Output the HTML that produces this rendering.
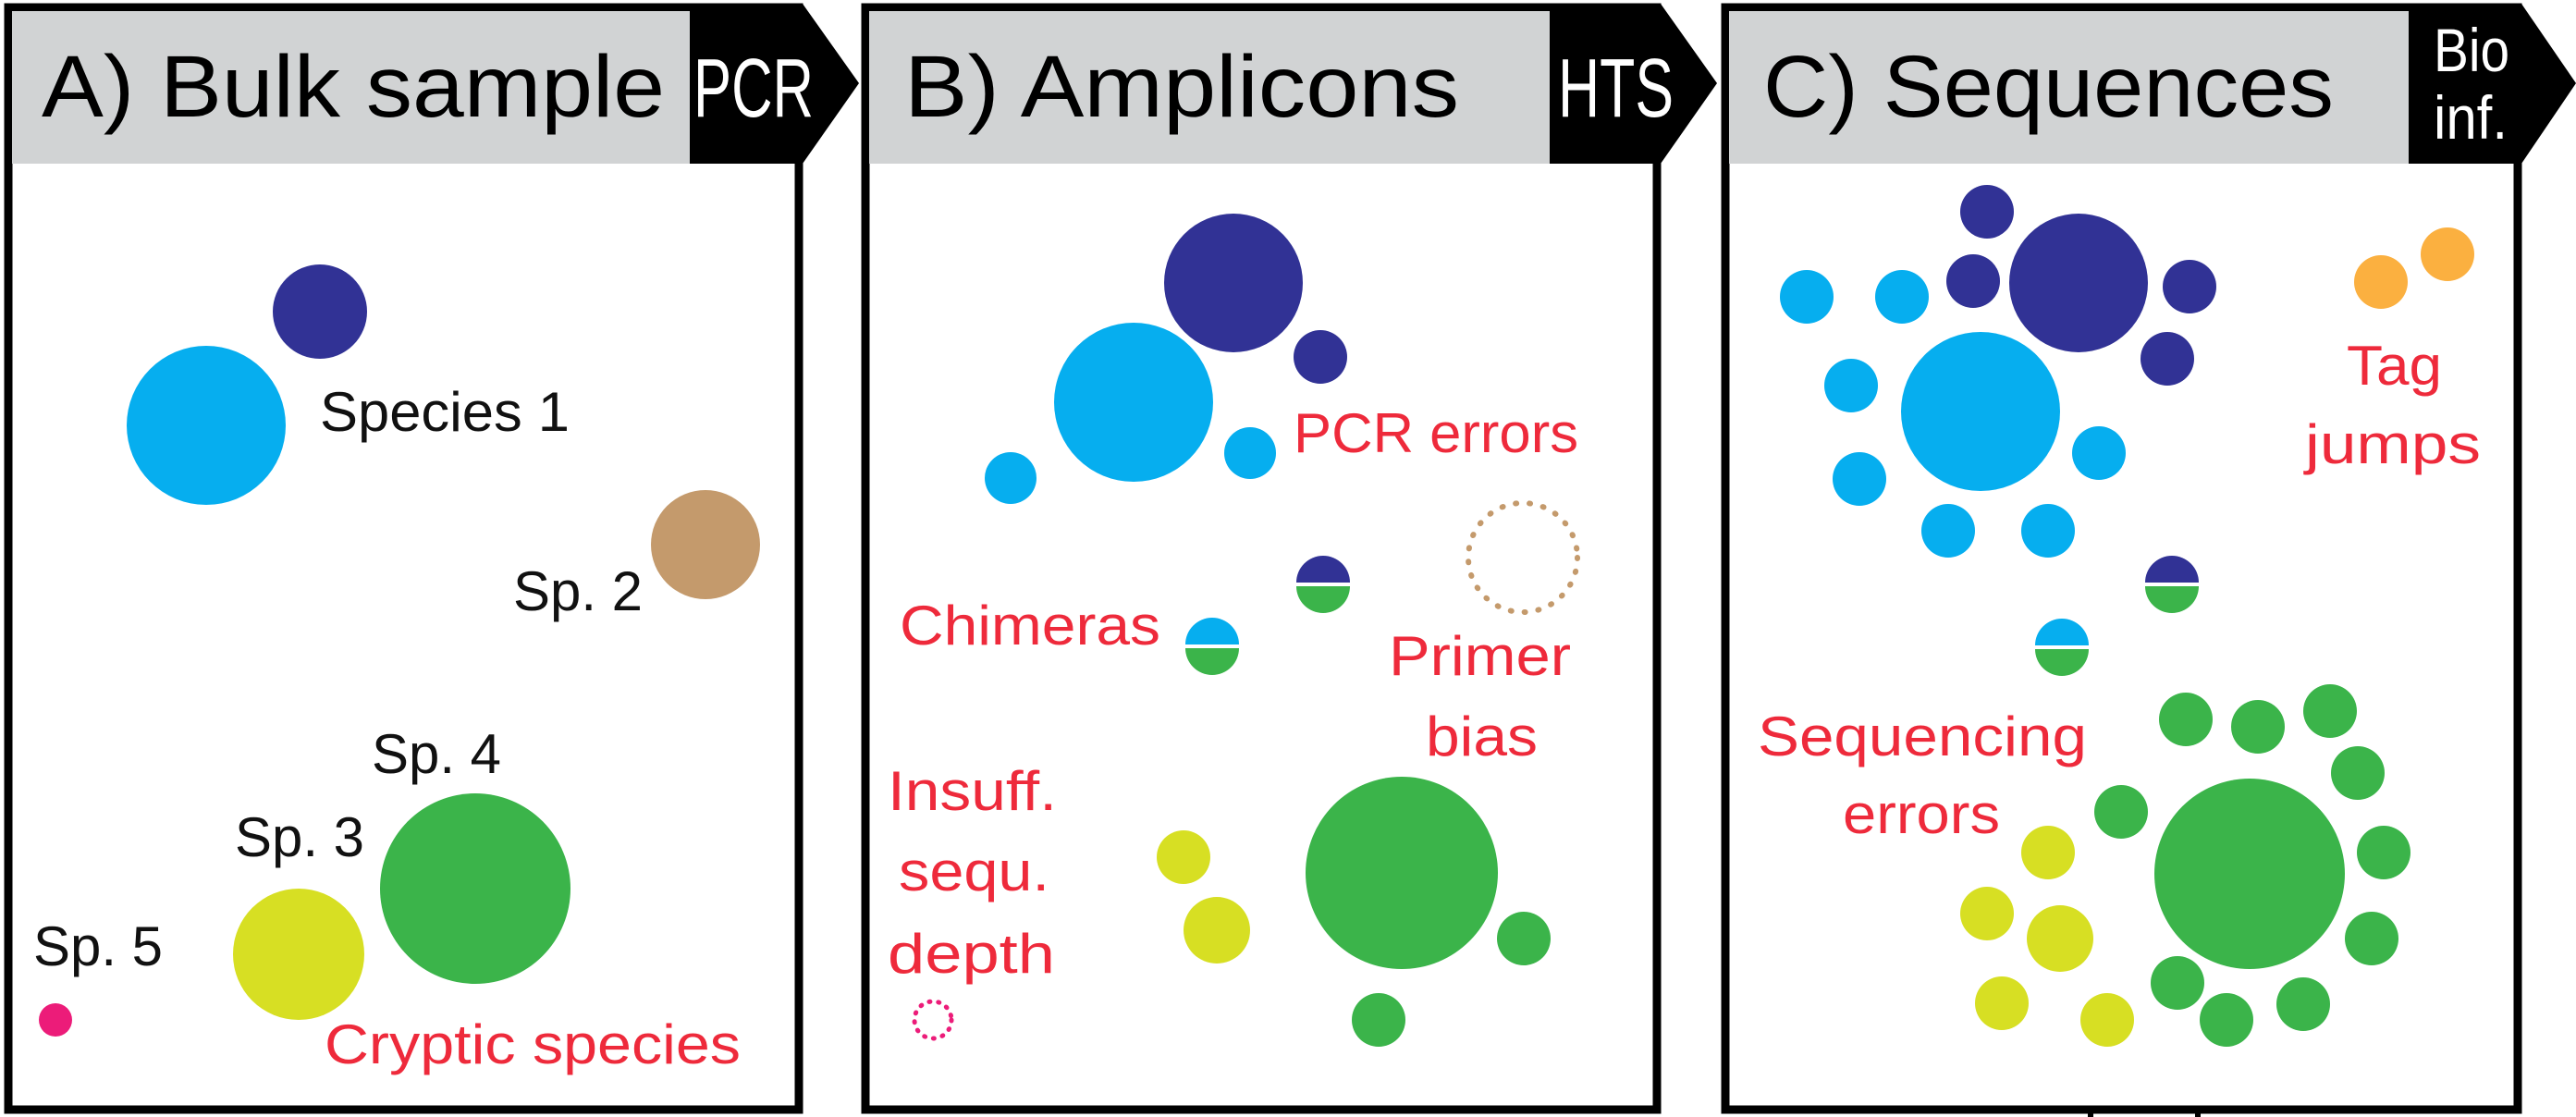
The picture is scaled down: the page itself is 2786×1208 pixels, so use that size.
<!DOCTYPE html>
<html><head><meta charset="utf-8"><style>html,body{margin:0;padding:0;background:#fff}svg{display:block}</style></head>
<body>
<svg width="2786" height="1208" viewBox="0 0 2786 1208" xmlns="http://www.w3.org/2000/svg" font-family="Liberation Sans, sans-serif">
<!-- Panel A -->
<rect x="9" y="8" width="855" height="1192" fill="#fff" stroke="#000" stroke-width="9"/>
<rect x="13" y="12" width="733" height="165" fill="#d1d3d4"/>
<polygon points="746,4 868,4 929,90 868,177 746,177" fill="#000"/>
<!-- Panel B -->
<rect x="936" y="8" width="856" height="1192" fill="#fff" stroke="#000" stroke-width="9"/>
<rect x="940" y="12" width="736" height="165" fill="#d1d3d4"/>
<polygon points="1676,4 1796,4 1857,90 1796,177 1676,177" fill="#000"/>
<!-- Panel C -->
<rect x="1866" y="8" width="857" height="1192" fill="#fff" stroke="#000" stroke-width="9"/>
<rect x="1870" y="12" width="735" height="165" fill="#d1d3d4"/>
<polygon points="2605,4 2727,4 2786,90 2727,177 2605,177" fill="#000"/>
<line x1="2261" y1="1200" x2="2261" y2="1208" stroke="#000" stroke-width="6"/>
<line x1="2377" y1="1200" x2="2377" y2="1208" stroke="#000" stroke-width="6"/>

<!-- headers -->
<g font-size="95">
<text x="45" y="126" textLength="674" lengthAdjust="spacingAndGlyphs">A) Bulk sample</text>
<text x="978" y="126" textLength="600" lengthAdjust="spacingAndGlyphs">B) Amplicons</text>
<text x="1907" y="126" textLength="617" lengthAdjust="spacingAndGlyphs">C) Sequences</text>
</g>
<g font-size="90" fill="#fff">
<text x="750" y="126" textLength="130" lengthAdjust="spacingAndGlyphs">PCR</text>
<text x="1685" y="126" textLength="125" lengthAdjust="spacingAndGlyphs">HTS</text>
</g>
<g font-size="66" fill="#fff">
<text x="2632" y="77" textLength="82" lengthAdjust="spacingAndGlyphs">Bio</text>
<text x="2632" y="150" textLength="80" lengthAdjust="spacingAndGlyphs">inf.</text>
</g>

<!-- Panel A content -->
<circle cx="346" cy="337" r="51" fill="#313295"/>
<circle cx="223" cy="460" r="86" fill="#06aeef"/>
<circle cx="763" cy="589" r="59" fill="#c49a6c"/>
<circle cx="514" cy="961" r="103" fill="#3bb44a"/>
<circle cx="323" cy="1032" r="71" fill="#d7df23"/>
<circle cx="60" cy="1103" r="18" fill="#ec1c79"/>
<g font-size="60" fill="#111">
<text x="346" y="466" textLength="270" lengthAdjust="spacingAndGlyphs">Species 1</text>
<text x="555" y="660" textLength="140" lengthAdjust="spacingAndGlyphs">Sp. 2</text>
<text x="402" y="836" textLength="140" lengthAdjust="spacingAndGlyphs">Sp. 4</text>
<text x="254" y="926" textLength="140" lengthAdjust="spacingAndGlyphs">Sp. 3</text>
<text x="36" y="1044" textLength="140" lengthAdjust="spacingAndGlyphs">Sp. 5</text>
</g>
<g font-size="60" fill="#ee2a3b">
<text x="351" y="1150" textLength="450" lengthAdjust="spacingAndGlyphs">Cryptic species</text>
</g>

<!-- Panel B content -->
<circle cx="1334" cy="306" r="75" fill="#313295"/>
<circle cx="1428" cy="386" r="29" fill="#313295"/>
<circle cx="1226" cy="435" r="86" fill="#06aeef"/>
<circle cx="1093" cy="517" r="28" fill="#06aeef"/>
<circle cx="1352" cy="490" r="28" fill="#06aeef"/>
<path d="M1282,697 A29,29 0 0 1 1340,697 Z" fill="#06aeef"/>
<path d="M1282,701 A29,29 0 0 0 1340,701 Z" fill="#3bb44a"/>
<path d="M1402,630 A29,29 0 0 1 1460,630 Z" fill="#313295"/>
<path d="M1402,634 A29,29 0 0 0 1460,634 Z" fill="#3bb44a"/>
<circle cx="1647" cy="603" r="59" fill="none" stroke="#c49a6c" stroke-width="6" stroke-dasharray="1 14" stroke-linecap="round"/>
<circle cx="1009" cy="1103" r="20" fill="none" stroke="#ec1c79" stroke-width="5" stroke-dasharray="1 9" stroke-linecap="round"/>
<circle cx="1280" cy="927" r="29" fill="#d7df23"/>
<circle cx="1316" cy="1006" r="36" fill="#d7df23"/>
<circle cx="1516" cy="944" r="104" fill="#3bb44a"/>
<circle cx="1648" cy="1015" r="29" fill="#3bb44a"/>
<circle cx="1491" cy="1103" r="29" fill="#3bb44a"/>
<g font-size="60" fill="#ee2a3b">
<text x="1399" y="489" textLength="308" lengthAdjust="spacingAndGlyphs">PCR errors</text>
<text x="973" y="697" textLength="282" lengthAdjust="spacingAndGlyphs">Chimeras</text>
<text x="1502" y="730" textLength="197" lengthAdjust="spacingAndGlyphs">Primer</text>
<text x="1542" y="817" textLength="121" lengthAdjust="spacingAndGlyphs">bias</text>
<text x="960" y="876" textLength="183" lengthAdjust="spacingAndGlyphs">Insuff.</text>
<text x="972" y="963" textLength="163" lengthAdjust="spacingAndGlyphs">sequ.</text>
<text x="960" y="1052" textLength="181" lengthAdjust="spacingAndGlyphs">depth</text>
</g>

<!-- Panel C content -->
<circle cx="2248" cy="306" r="75" fill="#313295"/>
<g fill="#313295">
<circle cx="2149" cy="229" r="29"/><circle cx="2134" cy="304" r="29"/>
<circle cx="2368" cy="310" r="29"/><circle cx="2344" cy="388" r="29"/>
</g>
<circle cx="2142" cy="445" r="86" fill="#06aeef"/>
<g fill="#06aeef">
<circle cx="1954" cy="321" r="29"/><circle cx="2057" cy="321" r="29"/>
<circle cx="2002" cy="417" r="29"/><circle cx="2011" cy="518" r="29"/>
<circle cx="2107" cy="574" r="29"/><circle cx="2215" cy="574" r="29"/>
<circle cx="2270" cy="490" r="29"/>
</g>
<g fill="#fbb040">
<circle cx="2575" cy="305" r="29"/><circle cx="2647" cy="275" r="29"/>
</g>
<path d="M2320,630 A29,29 0 0 1 2378,630 Z" fill="#313295"/>
<path d="M2320,634 A29,29 0 0 0 2378,634 Z" fill="#3bb44a"/>
<path d="M2201,698 A29,29 0 0 1 2259,698 Z" fill="#06aeef"/>
<path d="M2201,702 A29,29 0 0 0 2259,702 Z" fill="#3bb44a"/>
<circle cx="2433" cy="945" r="103" fill="#3bb44a"/>
<g fill="#3bb44a">
<circle cx="2364" cy="778" r="29"/><circle cx="2442" cy="786" r="29"/>
<circle cx="2520" cy="769" r="29"/><circle cx="2550" cy="836" r="29"/>
<circle cx="2294" cy="878" r="29"/><circle cx="2578" cy="922" r="29"/>
<circle cx="2565" cy="1015" r="29"/><circle cx="2355" cy="1063" r="29"/>
<circle cx="2408" cy="1103" r="29"/><circle cx="2491" cy="1086" r="29"/>
</g>
<g fill="#d7df23">
<circle cx="2215" cy="922" r="29"/><circle cx="2149" cy="988" r="29"/>
<circle cx="2228" cy="1015" r="36"/><circle cx="2165" cy="1085" r="29"/>
<circle cx="2279" cy="1103" r="29"/>
</g>
<g font-size="60" fill="#ee2a3b">
<text x="2538" y="416" textLength="103" lengthAdjust="spacingAndGlyphs">Tag</text>
<text x="2493" y="501" textLength="190" lengthAdjust="spacingAndGlyphs">jumps</text>
<text x="1901" y="817" textLength="356" lengthAdjust="spacingAndGlyphs">Sequencing</text>
<text x="1993" y="901" textLength="170" lengthAdjust="spacingAndGlyphs">errors</text>
</g>
</svg>
</body></html>
